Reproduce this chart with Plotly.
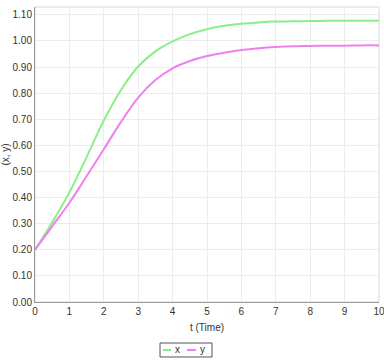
import plotly.graph_objects as go

t = [0, 0.5, 1, 1.5, 2, 2.5, 3, 3.5, 4, 4.5, 5, 5.5, 6, 6.5, 7, 7.5, 8, 8.5, 9, 9.5, 10]
x_vals = [0.20, 0.305, 0.42, 0.555, 0.695, 0.812, 0.902, 0.960, 0.998, 1.026, 1.045, 1.058, 1.066, 1.071, 1.074, 1.075, 1.076, 1.077, 1.077, 1.077, 1.077]
y_vals = [0.20, 0.29, 0.38, 0.482, 0.585, 0.69, 0.783, 0.850, 0.895, 0.923, 0.942, 0.955, 0.965, 0.972, 0.977, 0.980, 0.981, 0.982, 0.982, 0.983, 0.983]

series_names = ["x", "y"]
series_colors = ["#88f088", "#ee80ee"]

fig = go.Figure()
for name, vals, col in zip(series_names, [x_vals, y_vals], series_colors):
    fig.add_trace(go.Scatter(x=t, y=vals, mode="lines", name=name,
                             line=dict(color=col, width=2, shape="spline"),
                             showlegend=False))

# custom compact legend (paper coords)
shapes = [
    dict(type="rect", xref="paper", yref="paper", x0=0, x1=1, y0=0, y1=1,
         line=dict(color="#d8d8d8", width=1), layer="below"),
    dict(type="rect", xref="paper", yref="paper", x0=0.3634, x1=0.5145,
         y0=-0.1864, y1=-0.139, line=dict(color="#555", width=1),
         fillcolor="white"),
    dict(type="line", xref="paper", yref="paper", x0=0.372, x1=0.3953,
         y0=-0.1627, y1=-0.1627, line=dict(color=series_colors[0], width=2)),
    dict(type="line", xref="paper", yref="paper", x0=0.4419, x1=0.468,
         y0=-0.1627, y1=-0.1627, line=dict(color=series_colors[1], width=2)),
]
annotations = [
    dict(text=series_names[0], xref="paper", yref="paper", x=0.4128, y=-0.1627,
         showarrow=False, xanchor="center", yanchor="middle", font=dict(size=10, color="#333")),
    dict(text=series_names[1], xref="paper", yref="paper", x=0.4855, y=-0.1627,
         showarrow=False, xanchor="center", yanchor="middle", font=dict(size=10, color="#333")),
]

fig.update_layout(
    width=384, height=360,
    margin=dict(l=35, r=5, t=7, b=58),
    paper_bgcolor="white", plot_bgcolor="white",
    font=dict(family="Liberation Sans, Arial, sans-serif", size=10, color="#333"),
    showlegend=False,
    shapes=shapes,
    annotations=annotations,
)
fig.update_xaxes(range=[0, 10], dtick=1, tick0=0, showgrid=True, gridcolor="#ececec",
                 showline=True, linecolor="#999", linewidth=1, zeroline=False,
                 ticks="", ticklabeloverflow="allow", automargin=False,
                 title=dict(text="t (Time)", standoff=7, font=dict(size=10)))
fig.update_yaxes(range=[0, 1.13], dtick=0.1, tick0=0, tickformat=".2f", showgrid=True,
                 gridcolor="#ececec", showline=True, linecolor="#999", linewidth=1,
                 zeroline=False, ticks="", automargin=False,
                 title=dict(text="(x, y)", standoff=4, font=dict(size=10)))

fig.write_html("out.html")
